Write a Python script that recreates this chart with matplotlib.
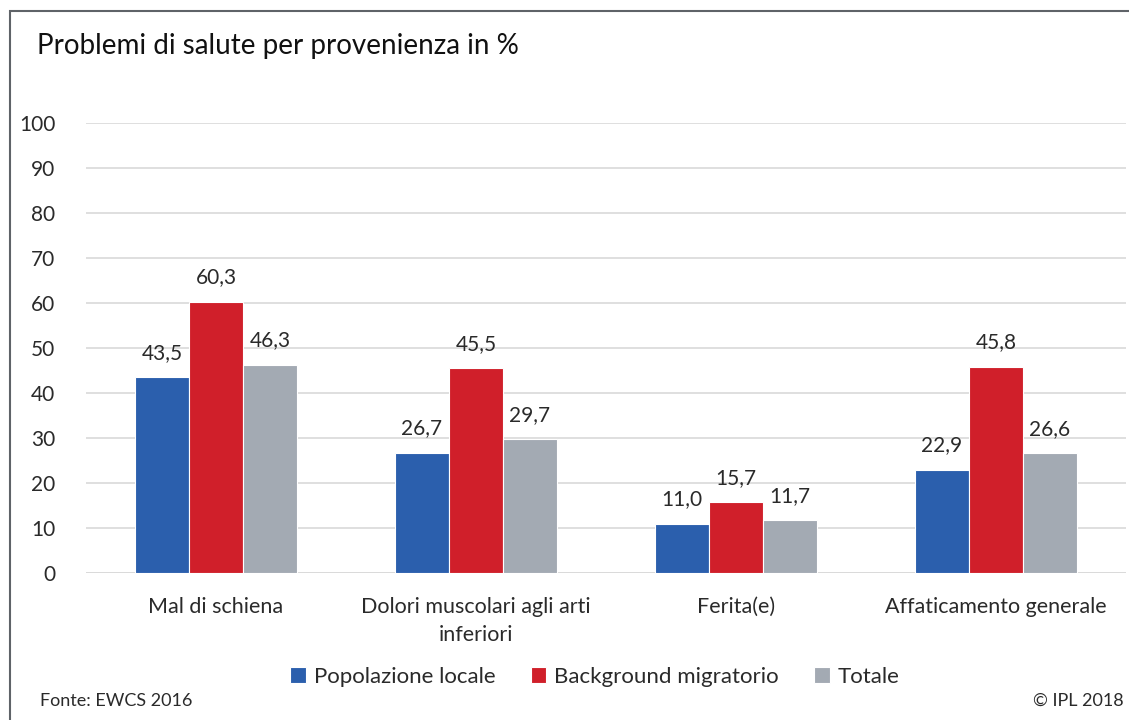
import matplotlib
matplotlib.use("Agg")
import matplotlib.pyplot as plt
import numpy as np
from matplotlib.patches import Rectangle

plt.rcParams["font.family"] = ["Lato", "DejaVu Sans"]

CATEGORIES = ["Mal di schiena", "Dolori muscolari agli arti\ninferiori",
              "Ferita(e)", "Affaticamento generale"]
SERIES = ["Popolazione locale", "Background migratorio", "Totale"]
LOCALE = [43.5, 26.7, 11.0, 22.9]
MIGRATORIO = [60.3, 45.5, 15.7, 45.8]
TOTALE = [46.3, 29.7, 11.7, 26.6]
COLORS = ["#2b5fad", "#d01f2a", "#a3aab3"]
YTICKS = [0, 10, 20, 30, 40, 50, 60, 70, 80, 90, 100]

W, H = 1129, 720
fig = plt.figure(figsize=(W / 100, H / 100), dpi=100)
ax = fig.add_axes([86 / W, 1 - 573 / H, 1040 / W, 450 / H])

x = np.arange(len(CATEGORIES))
bw = 0.2077
for i, (vals, col, name) in enumerate(zip([LOCALE, MIGRATORIO, TOTALE], COLORS, SERIES)):
    pos = x + (i - 1) * bw
    ax.bar(pos, vals, width=bw, color=col, edgecolor="white", linewidth=0.8,
           label=name, zorder=3)
    for p, v in zip(pos, vals):
        ax.annotate(f"{v:.1f}".replace(".", ","), (p, v), xytext=(0, 10.5),
                    textcoords="offset points", ha="center", va="bottom",
                    fontsize=15, color="#2a2a2a")

ax.set_xlim(-0.5, 3.5)
ax.set_ylim(0, 100)
ax.set_yticks(YTICKS)
ax.set_yticklabels([str(t) for t in YTICKS])
ax.set_xticks(x)
ax.set_xticklabels(CATEGORIES, fontsize=15.5, color="#2a2a2a", linespacing=1.55)
ax.tick_params(axis="y", labelsize=15, labelcolor="#2a2a2a", length=0, pad=22)
ax.tick_params(axis="x", length=0, pad=17)
ax.grid(axis="y", color="#d9d9d9", linewidth=1.2, zorder=0)
for s in ax.spines.values():
    s.set_visible(False)
ax.axhline(0, color="#d9d9d9", linewidth=1.2, zorder=1)

# frame around the figure
fig.patches.append(Rectangle((9.5 / W, -0.1), 1.2, 1 - 10.5 / H + 0.1,
                             transform=fig.transFigure, fill=False,
                             edgecolor="#5f6368", linewidth=1.5))

fig.text(37 / W, 1 - 46 / H, "Problemi di salute per provenienza in %",
         fontsize=20, color="#111111", va="center")
fig.legend(*ax.get_legend_handles_labels(), loc="center", ncol=3,
           bbox_to_anchor=(595 / W, 1 - 677 / H), frameon=False, fontsize=16,
           handlelength=0.7, handleheight=0.7, handletextpad=0.35,
           columnspacing=1.6, labelcolor="#2a2a2a")
fig.text(40 / W, 1 - 701 / H, "Fonte: EWCS 2016", fontsize=13,
         color="#2a2a2a", va="center")
fig.text(1124 / W, 1 - 701 / H, "\u00a9 IPL 2018", fontsize=13,
         color="#2a2a2a", va="center", ha="right")

fig.savefig("out.png", dpi=100)
